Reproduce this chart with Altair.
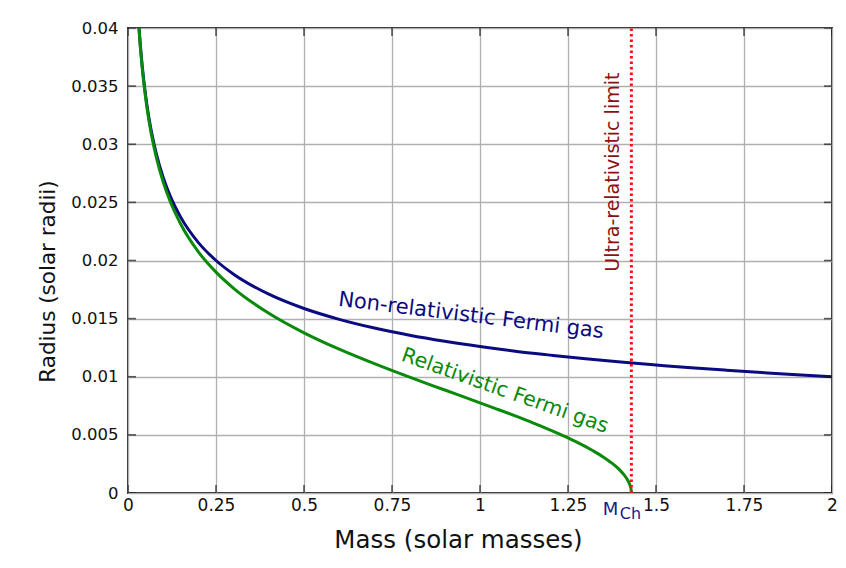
import altair as alt
import pandas as pd

# ---- data ----
mass_nonrel = [0.03, 0.035, 0.04, 0.05, 0.06, 0.07, 0.08, 0.1, 0.12, 0.15, 0.2, 0.25, 0.3,
               0.4, 0.5, 0.6, 0.7, 0.8, 0.9, 1.0, 1.1, 1.2, 1.3, 1.4, 1.5, 1.6, 1.7, 1.8, 1.9, 2.0]
radius_nonrel = [0.04055, 0.03852, 0.03684, 0.03420, 0.03218, 0.03057, 0.02924, 0.02714, 0.02554,
                 0.02371, 0.02154, 0.02000, 0.01882, 0.01710, 0.01587, 0.01494, 0.01419, 0.01357,
                 0.01305, 0.01260, 0.01220, 0.01186, 0.01154, 0.01126, 0.01101, 0.01077, 0.01056,
                 0.01036, 0.01017, 0.01000]

mass_rel = [0.03, 0.035, 0.04, 0.05, 0.06, 0.07, 0.08, 0.1, 0.12, 0.15, 0.2, 0.25, 0.3, 0.4,
            0.5, 0.6, 0.7, 0.8, 0.9, 1.0, 1.05, 1.1, 1.15, 1.175, 1.2, 1.225, 1.25, 1.275, 1.3,
            1.32, 1.35, 1.37, 1.38, 1.39, 1.4, 1.41, 1.42, 1.425, 1.428, 1.429, 1.4297, 1.43]
radius_rel = [0.04043, 0.03838, 0.03668, 0.03400, 0.03194, 0.03030, 0.02893, 0.02675, 0.02507,
              0.02312, 0.02074, 0.01900, 0.01761, 0.01546, 0.01378, 0.01237, 0.01112, 0.00996,
              0.00886, 0.00776, 0.00720, 0.00663, 0.00604, 0.00573, 0.00541, 0.00509, 0.00474,
              0.00438, 0.00399, 0.00365, 0.00310, 0.00267, 0.00244, 0.00218, 0.00188, 0.00153,
              0.00108, 0.000765, 0.000484, 0.000342, 0.000188, 0.0]

m_ch = 1.43
x_ticks = [0, 0.25, 0.5, 0.75, 1, 1.25, 1.5, 1.75, 2]
y_ticks = [0, 0.005, 0.01, 0.015, 0.02, 0.025, 0.03, 0.035, 0.04]

ann_text = ["Non-relativistic Fermi gas", "Relativistic Fermi gas", "Ultra-relativistic limit", "M", "Ch"]
ann_mass = [0.9744, 1.071, 1.378, 1.3707, 1.4276]
ann_radius = [0.01523, 0.00877, 0.0276, -0.00146, -0.00181]
ann_angle = [7, 19.5, 270, 0, 0]
ann_color = ["#0b0b80", "#0a8a0a", "#8b1212", "#1a1a8c", "#1a1a8c"]
ann_size = [21, 20.5, 19, 18, 16]

# ---- tables ----
nonrel = pd.DataFrame({"mass": mass_nonrel, "radius": radius_nonrel})
rel = pd.DataFrame({"mass": mass_rel, "radius": radius_rel})
limit = pd.DataFrame({"mass": [m_ch], "radius": [y_ticks[0]], "radius2": [y_ticks[-1]]})
xt = pd.DataFrame({"mass": x_ticks * 2, "radius": [y_ticks[0]] * len(x_ticks) + [y_ticks[-1]] * len(x_ticks)})
yt = pd.DataFrame({"mass": [x_ticks[0]] * len(y_ticks) + [x_ticks[-1]] * len(y_ticks), "radius": y_ticks * 2})
ann = pd.DataFrame({"label": ann_text, "mass": ann_mass, "radius": ann_radius,
                    "angle": ann_angle, "color": ann_color, "size": ann_size})

FONT = "DejaVu Sans"

x_scale = alt.Scale(domain=[0, 2], nice=False, zero=False)
y_scale = alt.Scale(domain=[0, 0.04], nice=False, zero=False)

x_axis = alt.Axis(values=x_ticks, labelExpr="format(datum.value, '~g')", grid=True,
                  gridColor="#b0b0b0", gridWidth=1.3, ticks=False, domain=False,
                  labelFontSize=17, labelPadding=4, labelColor="#111111", labelFont=FONT,
                  labelFlush=False, labelOverlap=False,
                  title="Mass (solar masses)", titleFont=FONT, titleFontSize=24.5,
                  titleFontWeight="normal", titleColor="#111111",
                  titleX=330, titleY=47, titleBaseline="middle", titleAlign="center")
y_axis = alt.Axis(values=y_ticks, labelExpr="format(datum.value, '~g')", grid=True,
                  gridColor="#b0b0b0", gridWidth=1.3, ticks=False, domain=False,
                  labelFontSize=16.5, labelPadding=10, labelColor="#111111", labelFont=FONT,
                  labelFlush=False, labelOverlap=False,
                  title="Radius (solar radii)", titleFont=FONT, titleFontSize=21.5,
                  titleFontWeight="normal", titleColor="#111111",
                  titleX=-80, titleY=253, titleBaseline="middle", titleAlign="center",
                  titleAngle=270)

X = alt.X("mass:Q", scale=x_scale, axis=x_axis)
Y = alt.Y("radius:Q", scale=y_scale, axis=y_axis)

line_nr = alt.Chart(nonrel).mark_line(color="#0b0b80", strokeWidth=3, clip=True,
                                      interpolate="monotone").encode(x=X, y=Y)
line_rel = alt.Chart(rel).mark_line(color="#0a8a0a", strokeWidth=3, clip=True,
                                    interpolate="monotone").encode(x=X, y=Y)
rule = alt.Chart(limit).mark_rule(color="#ff1010", strokeWidth=3, strokeDash=[2.5, 3]).encode(
    x=X, y=Y, y2="radius2:Q")
ticks_x = alt.Chart(xt).mark_tick(orient="vertical", size=16, thickness=1.6, color="#1a1a1a",
                                  clip=True).encode(x=X, y=Y)
ticks_y = alt.Chart(yt).mark_tick(orient="horizontal", size=16, thickness=1.6, color="#1a1a1a",
                                  clip=True).encode(x=X, y=Y)
texts = alt.Chart(ann).mark_text(font=FONT, align="center", baseline="middle").encode(
    x=X, y=Y, text="label:N",
    angle=alt.Angle("angle:Q", scale=None),
    color=alt.Color("color:N", scale=None),
    size=alt.Size("size:Q", scale=None))

chart = alt.layer(line_nr, line_rel, rule, ticks_x, ticks_y, texts).properties(
    width=704, height=465,
    autosize=alt.AutoSizeParams(type="none"),
    padding={"left": 120, "top": 20, "right": 6, "bottom": 60},
    background="white",
).configure_view(stroke="#1a1a1a", strokeWidth=1.8)

chart.save("out.html", embed_options={"renderer": "svg", "actions": False})
